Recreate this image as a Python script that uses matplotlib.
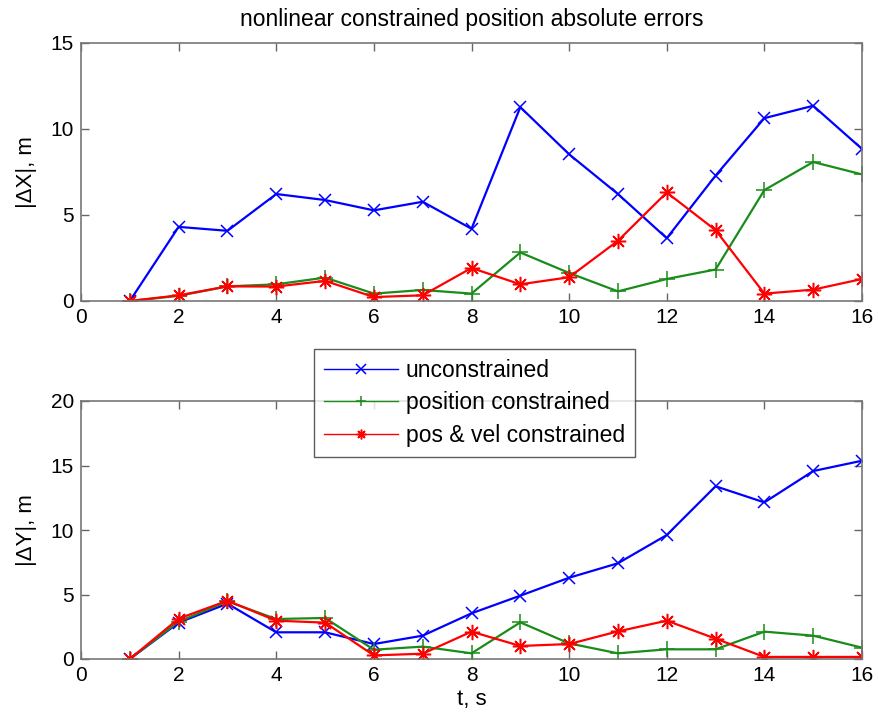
import numpy as np
import matplotlib
matplotlib.use('Agg')
import matplotlib.pyplot as plt

plt.rcParams['font.family'] = ['Liberation Sans', 'DejaVu Sans']

# time steps
t = np.arange(1, 17)

# |dX| errors
dx_unc = [0, 4.31, 4.08, 6.22, 5.87, 5.27, 5.77, 4.20, 11.27, 8.53, 6.22, 3.65, 7.29, 10.63, 11.35, 8.84]
dx_pos = [0, 0.30, 0.85, 0.97, 1.36, 0.43, 0.64, 0.43, 2.82, 1.63, 0.56, 1.28, 1.83, 6.45, 8.08, 7.36]
dx_pv = [0, 0.33, 0.85, 0.84, 1.17, 0.23, 0.33, 1.92, 0.97, 1.38, 3.50, 6.31, 4.12, 0.43, 0.66, 1.28]

# |dY| errors
dy_unc = [0, 2.82, 4.29, 2.07, 2.07, 1.16, 1.81, 3.54, 4.91, 6.30, 7.42, 9.61, 13.39, 12.14, 14.57, 15.37]
dy_pos = [0, 2.90, 4.47, 3.10, 3.18, 0.72, 0.96, 0.44, 2.84, 1.21, 0.44, 0.75, 0.75, 2.12, 1.81, 0.88]
dy_pv = [0, 3.13, 4.52, 2.97, 2.82, 0.28, 0.41, 2.12, 1.01, 1.16, 2.14, 2.97, 1.58, 0.16, 0.16, 0.16]

labels = ['unconstrained', 'position constrained', 'pos & vel constrained']
colors = ['#0000ff', '#1a8c1a', '#ff0000']
markers = ['x', '+', (8, 2, 0)]
msizes = [9, 12, 11]
W, H = 879, 721

fig = plt.figure(figsize=(W / 100, H / 100), dpi=100)
ax1 = fig.add_axes([81 / W, 1 - 301 / H, 781 / W, 258 / H])
ax2 = fig.add_axes([81 / W, 1 - 659 / H, 781 / W, 258 / H])


def draw(ax, series, ylim, yticks):
    handles = []
    for y, c, m, ms, lab in zip(series, colors, markers, msizes, labels):
        h, = ax.plot(t, y, color=c, marker=m, markersize=ms, markeredgewidth=1.1,
                     linewidth=1.6, label=lab)
        handles.append(h)
    ax.set_xlim(0, 16)
    ax.set_ylim(*ylim)
    ax.set_xticks(range(0, 17, 2))
    ax.set_yticks(yticks)
    ax.tick_params(direction='in', top=True, right=True, labelsize=15,
                   length=6, width=1, color='#666666', pad=5)
    for s in ax.spines.values():
        s.set_color('#777777')
        s.set_linewidth(1.2)
    return handles


h = draw(ax1, [dx_unc, dx_pos, dx_pv], (0, 15), [0, 5, 10, 15])
draw(ax2, [dy_unc, dy_pos, dy_pv], (0, 20), [0, 5, 10, 15, 20])

ax1.set_title('nonlinear constrained position absolute errors', fontsize=16.5, pad=12)
ax1.set_ylabel('|\u0394X|, m', fontsize=16, labelpad=10)
ax2.set_ylabel('|\u0394Y|, m', fontsize=16, labelpad=10)
ax2.set_xlabel('t, s', fontsize=16, labelpad=3)

# legend sits between the two panels, overlapping the lower one
leg = fig.legend(handles=h, loc='upper left', bbox_to_anchor=(314 / W, 1 - 349 / H),
                 fontsize=16.5, frameon=True, fancybox=False, handlelength=3.2,
                 borderpad=0.45, labelspacing=0.4, handletextpad=0.35,
                 borderaxespad=0)
leg.get_frame().set_edgecolor('#333333')
leg.get_frame().set_linewidth(1)
for lh in leg.legend_handles:
    lh.set_linewidth(1)
    lh.set_markersize(7)

fig.savefig('out.png', dpi=100)
